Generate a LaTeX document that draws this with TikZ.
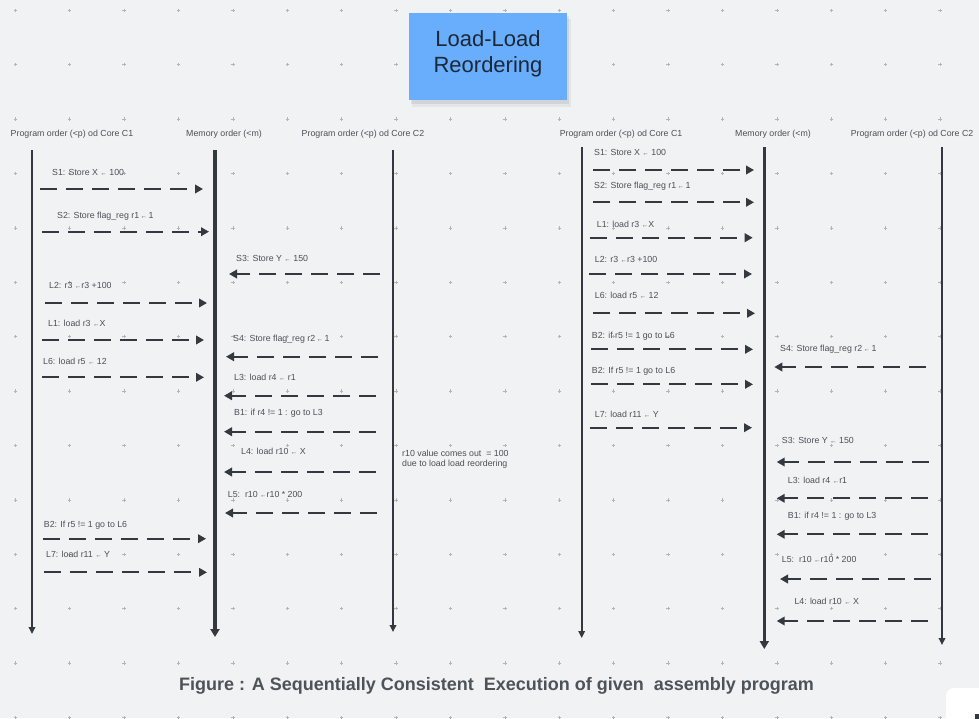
\documentclass[tikz,border=0pt]{standalone}
\usepackage{fontspec}
\setmainfont{Liberation Sans}
\usetikzlibrary{arrows.meta}
\definecolor{bg}{RGB}{241,242,244}
\definecolor{gridc}{RGB}{178,180,186}
\definecolor{ink}{RGB}{52,57,64}
\definecolor{lblc}{RGB}{75,80,86}
\definecolor{boxblue}{RGB}{104,174,252}
\definecolor{titlec}{RGB}{28,40,56}
\definecolor{capc}{RGB}{78,83,90}
\newcommand{\myarr}{{\fontsize{6.5pt}{6.5pt}\selectfont ←}}
\tikzset{
  lbl/.style={anchor=west, inner sep=0pt, text=lblc, font=\fontsize{8.8pt}{10pt}\selectfont},
  hdr/.style={inner sep=0pt, text=lblc, font=\fontsize{8.8pt}{10pt}\selectfont},
  msg/.style={draw=ink, line width=2pt, dash pattern=on 17pt off 9pt, -{Triangle[length=8pt,width=8.5pt]}},
  life/.style={draw=ink, line width=1.7pt, -{Triangle[length=7pt,width=6.5pt]}},
  memlife/.style={draw=ink, line width=3.3pt, -{Triangle[length=8pt,width=9pt]}},
}
\newcommand{\msgline}[7]{%
  \coordinate (#1s) at (#2,#4);
  \coordinate (#1e) at (#3,#4);
  \draw[msg] (#1s) -- (#1e);
  \node[lbl] (#1l) at (#5,#6) {#7};}
\begin{document}
\begin{tikzpicture}[x=1pt,y=-1pt]
\useasboundingbox (0,0) rectangle (979,718);
\fill[bg] (0,0) rectangle (979,718);
% grid crosses
\foreach \i in {0,...,17}{
  \foreach \j in {0,...,13}{
    \draw[gridc, line width=0.5pt] ({15.3+54.4*\i-1.7},{10.3+54.4*\j}) -- ++(3.4,0)
      ({15.3+54.4*\i},{10.3+54.4*\j-1.7}) -- ++(0,3.4);
  }
}
% title box
\fill[black, opacity=0.05] (412,19) rectangle (571,107);
\fill[black, opacity=0.07] (411,16) rectangle (569,104);
\fill[boxblue] (409,12.7) rectangle (566.7,100);
\node[text=titlec, font=\fontsize{22pt}{26pt}\selectfont, align=center, inner sep=0pt] (title) at (488,54) {Load-Load\\Reordering};

% ---------- LEFT DIAGRAM ----------
\node[hdr] (h1) at (72,134) {Program order (<p) od Core C1};
\node[hdr] (h2) at (224,134) {Memory order (<m)};
\node[hdr] (h3) at (363,134) {Program order (<p) od Core C2};
\coordinate (c1t) at (32,150); \coordinate (c1b) at (32,634);
\coordinate (mt) at (215,150); \coordinate (mb) at (215,637);
\coordinate (c2t) at (393,150); \coordinate (c2b) at (393,632);
\draw[life] (c1t) -- (c1b);
\draw[memlife] (mt) -- (mb);
\draw[life] (c2t) -- (c2b);

\msgline{aS1}{40}{203}{189}{52}{172}{S1: Store X \myarr\ 100}
\msgline{aS2}{42}{209}{231.7}{57}{216.7}{S2: Store flag\_reg r1\,\myarr\,1}
\msgline{aL2}{45}{207}{303}{49}{285}{L2: r3 \myarr r3 +100}
\msgline{aL1}{42}{204}{340}{48}{323}{L1: load r3 \myarr X}
\msgline{aL6}{42}{204}{377.3}{43}{361}{L6: load r5 \myarr\ 12}
\msgline{aB2}{42.7}{206}{538.7}{43.7}{525}{B2: If r5 != 1 go to L6}
\msgline{aL7}{44}{207}{572.3}{46}{554.7}{L7: load r11 \myarr\ Y}

\msgline{aS3}{380}{229}{274}{236}{258.7}{S3: Store Y \myarr\ 150}
\msgline{aS4}{378}{226}{356.7}{233}{339}{S4: Store flag\_reg r2\,\myarr\,1}
\msgline{aL3}{376}{224}{395.7}{234}{377.7}{L3: load r4 \myarr\ r1}
\msgline{aB1}{376}{224}{431.7}{234}{413.7}{B1: if r4 != 1 : go to L3}
\msgline{aL4}{376}{224}{472}{241}{451.7}{L4: load r10 \myarr\ X}
\msgline{aL5}{377}{225}{513}{227.7}{494}{L5:\ \ r10 \myarr r10 * 200}
\node[lbl, align=left] (note) at (402,459.7) {r10 value comes out\ \ = 100\\due to load load reordering};

% ---------- RIGHT DIAGRAM ----------
\node[hdr] (rh1) at (621,134) {Program order (<p) od Core C1};
\node[hdr] (rh2) at (773,134) {Memory order (<m)};
\node[hdr] (rh3) at (912,134) {Program order (<p) od Core C2};
\coordinate (rc1t) at (581.7,147); \coordinate (rc1b) at (581.7,638);
\coordinate (rmt) at (764.3,147); \coordinate (rmb) at (764.3,649);
\coordinate (rc2t) at (942,147); \coordinate (rc2b) at (942,645);
\draw[life] (rc1t) -- (rc1b);
\draw[memlife] (rmt) -- (rmb);
\draw[life] (rc2t) -- (rc2b);

\msgline{bS1}{593}{754}{170}{594}{152.7}{S1: Store X \myarr\ 100}
\msgline{bS2}{593}{754}{202.3}{594}{186}{S2: Store flag\_reg r1\,\myarr\,1}
\msgline{bL1}{590}{752.7}{237.7}{596.7}{224}{L1: load r3 \myarr X}
\msgline{bL2}{589}{752}{274}{594.7}{259}{L2: r3 \myarr r3 +100}
\msgline{bL6}{593}{755}{313.3}{594.7}{295}{L6: load r5 \myarr\ 12}
\msgline{bB2a}{591}{753}{349.3}{591.7}{336}{B2: if r5 != 1 go to L6}
\msgline{bB2b}{591}{753}{384.3}{591.7}{371.3}{B2: If r5 != 1 go to L6}
\msgline{bL7}{590}{752}{427.7}{594.7}{414.3}{L7: load r11 \myarr\ Y}

\msgline{bS4}{926}{774.3}{367}{780}{349.3}{S4: Store flag\_reg r2\,\myarr\,1}
\msgline{bS3}{928.7}{776.7}{462}{781.7}{440.7}{S3: Store Y \myarr\ 150}
\msgline{bL3}{928}{776.7}{498.3}{787.7}{480}{L3: load r4 \myarr r1}
\msgline{bB1}{928}{776.7}{534.3}{787.7}{516.3}{B1: if r4 != 1 : go to L3}
\msgline{bL5}{931}{780}{579}{781.7}{559.7}{L5:\ \ r10 \myarr r10 * 200}
\msgline{bL4}{928}{776.7}{621}{794.3}{601}{L4: load r10 \myarr\ X}

% caption
\node[text=capc, font=\bfseries\fontsize{18pt}{20pt}\selectfont, inner sep=0pt] (cap) at (496.5,686) {Figure : A Sequentially Consistent\ \ Execution of given\ \ assembly program};

% corner widget
\fill[white, rounded corners=8pt] (946,688) rectangle (990,730);
\fill[ink] (975,714) rectangle (981,720);
\end{tikzpicture}
\end{document}
